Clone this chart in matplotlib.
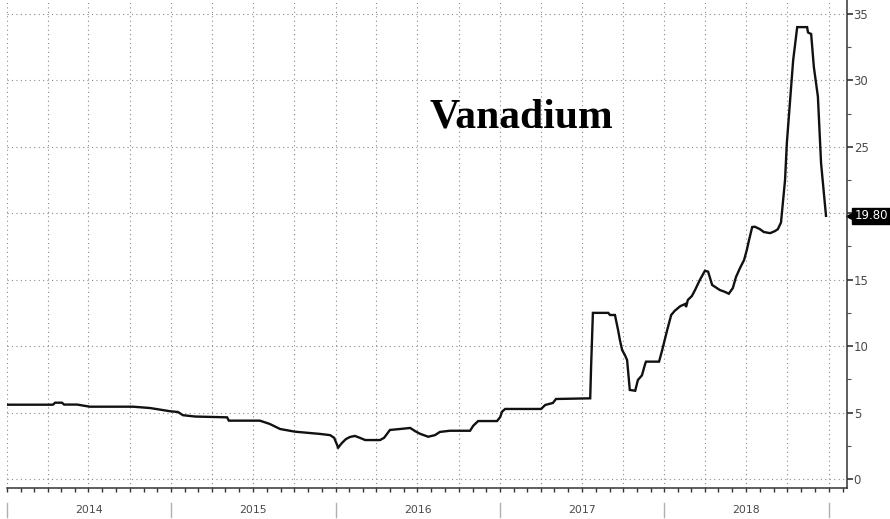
"""Vanadium price chart (Bloomberg-style line with right axis)."""
import matplotlib

matplotlib.use("Agg")
import matplotlib.pyplot as plt
import matplotlib.dates as mdates
import matplotlib.transforms as mtransforms
from matplotlib.ticker import MultipleLocator, FuncFormatter
import pandas as pd

INK = "#111111"
GRID = "#8a8a8a"
MUTED = "#4a4a4a"

# price readings
dates = [
    "2014-01-01", "2014-04-13", "2014-04-18", "2014-05-03", "2014-05-08", "2014-06-06",
    "2014-07-04", "2014-10-08", "2014-11-15", "2014-12-29", "2015-01-16", "2015-01-27",
    "2015-02-23", "2015-05-05", "2015-05-09", "2015-07-17", "2015-08-08", "2015-08-31",
    "2015-10-03", "2015-11-05", "2015-11-28", "2015-12-20", "2015-12-29", "2016-01-07",
    "2016-01-15", "2016-01-24", "2016-02-02", "2016-02-13", "2016-02-24", "2016-03-07",
    "2016-04-09", "2016-04-18", "2016-05-01", "2016-05-23", "2016-06-15", "2016-06-26",
    "2016-07-07", "2016-07-25", "2016-08-09", "2016-08-20", "2016-09-11", "2016-10-26",
    "2016-11-02", "2016-11-13", "2016-12-25", "2017-01-01", "2017-01-05", "2017-01-12",
    "2017-04-02", "2017-04-11", "2017-04-28", "2017-05-05", "2017-07-20", "2017-07-22",
    "2017-07-26", "2017-08-29", "2017-09-02", "2017-09-13", "2017-09-20", "2017-09-24",
    "2017-09-29", "2017-10-05", "2017-10-10", "2017-10-16", "2017-10-28", "2017-11-03",
    "2017-11-12", "2017-11-19", "2017-11-21", "2017-12-20", "2017-12-27", "2018-01-07",
    "2018-01-16", "2018-01-24", "2018-02-05", "2018-02-16", "2018-02-18", "2018-02-22",
    "2018-03-03", "2018-03-10", "2018-03-21", "2018-04-01", "2018-04-08", "2018-04-17",
    "2018-05-04", "2018-05-16", "2018-05-24", "2018-06-02", "2018-06-09", "2018-06-18",
    "2018-06-27", "2018-07-03", "2018-07-08", "2018-07-15", "2018-07-21", "2018-08-01",
    "2018-08-10", "2018-08-24", "2018-09-04", "2018-09-10", "2018-09-17", "2018-09-26",
    "2018-09-30", "2018-10-14", "2018-10-23", "2018-11-14", "2018-11-16", "2018-11-23",
    "2018-11-29", "2018-12-08", "2018-12-15", "2018-12-26",
]
prices = [
    5.59, 5.59, 5.74, 5.74, 5.60, 5.60,
    5.44, 5.44, 5.34, 5.10, 5.04, 4.80,
    4.70, 4.64, 4.39, 4.39, 4.14, 3.76,
    3.56, 3.46, 3.39, 3.30, 3.10, 2.36,
    2.70, 3.00, 3.16, 3.24, 3.10, 2.93,
    2.93, 3.10, 3.69, 3.76, 3.84, 3.60,
    3.40, 3.18, 3.30, 3.54, 3.63, 3.63,
    4.00, 4.36, 4.36, 4.66, 5.06, 5.27,
    5.27, 5.57, 5.72, 6.02, 6.07, 8.45,
    12.50, 12.50, 12.34, 12.34, 11.20, 10.46,
    9.70, 9.33, 8.95, 6.70, 6.64, 7.45,
    7.80, 8.65, 8.83, 8.83, 9.70, 11.20,
    12.34, 12.66, 13.00, 13.17, 12.94, 13.47,
    13.77, 14.22, 15.00, 15.67, 15.60, 14.60,
    14.22, 14.07, 13.94, 14.37, 15.20, 15.88,
    16.48, 17.23, 17.98, 18.96, 18.98, 18.80,
    18.58, 18.50, 18.66, 18.80, 19.30, 22.50,
    25.28, 31.50, 34.00, 34.00, 33.60, 33.48,
    31.00, 28.77, 23.78, 19.80,
]
years = [2014, 2015, 2016, 2017, 2018]
last_label = "19.80"

x = pd.to_datetime(dates)

fig = plt.figure(figsize=(8.9, 5.19), dpi=100)
ax = fig.add_axes([7 / 890, 30.7 / 519, 839.7 / 890, 488.3 / 519])

ax.plot(x, prices, color=INK, lw=1.7, solid_joinstyle="miter")

ax.set_xlim(pd.Timestamp("2014-01-01"), pd.Timestamp("2019-02-10"))
ax.set_ylim(-0.70, 36.04)

# axes styling
for s in ("left", "top"):
    ax.spines[s].set_visible(False)
for s in ("bottom", "right"):
    ax.spines[s].set_color("#333333")
    ax.spines[s].set_linewidth(1.1)

ax.yaxis.tick_right()
ax.yaxis.set_major_locator(MultipleLocator(5))
ax.yaxis.set_minor_locator(MultipleLocator(2.5))
# the 20 label sits under the last-value tag
ax.yaxis.set_major_formatter(FuncFormatter(lambda v, _: "" if abs(v - 20) < 0.01 else f"{v:.0f}"))
ax.tick_params(axis="y", which="major", direction="out", length=4, width=1.2,
               color="#333333", labelsize=8.5, labelcolor=MUTED, pad=1)
ax.tick_params(axis="y", which="minor", direction="out", length=3, width=0.8, color="#555555")

ax.xaxis.set_major_locator(mdates.MonthLocator(bymonth=[1, 4, 7, 10]))
ax.xaxis.set_minor_locator(mdates.MonthLocator())
ax.tick_params(axis="x", which="both", direction="out", length=3, width=1.0,
               color="#333333", labelbottom=False)

ax.grid(True, which="major", color=GRID, lw=0.8, ls=(0, (1, 3)))

# year labels and separators under the axis
trans = mtransforms.blended_transform_factory(ax.transData, ax.transAxes)
for yr in years + [2019]:
    xd = mdates.date2num(pd.Timestamp(f"{yr}-01-01"))
    ax.plot([xd, xd], [-0.031, -0.059], transform=trans, color="#b0b0b0", lw=1.0, clip_on=False)
for yr in years:
    mid = mdates.date2num(pd.Timestamp(f"{yr}-07-02"))
    ax.text(mid, -0.045, str(yr), transform=trans, ha="center", va="center",
            fontsize=7.8, color=MUTED)

# last value tag on the right axis
ytrans = mtransforms.blended_transform_factory(ax.transAxes, ax.transData)
ax.plot([1.004], [prices[-1]], marker="<", ms=6, color="black", transform=ytrans, clip_on=False)
ax.text(1.009, prices[-1], last_label, transform=ytrans, ha="left", va="center",
        fontsize=8.5, color="white",
        bbox=dict(boxstyle="square,pad=0.15", fc="black", ec="black"))

fig.text(430 / 890, 1 - 127 / 519, "Vanadium", ha="left", va="baseline",
         fontsize=30, fontweight="bold", family="Liberation Serif", color="black")

fig.savefig("out.png", dpi=100, facecolor="white")
